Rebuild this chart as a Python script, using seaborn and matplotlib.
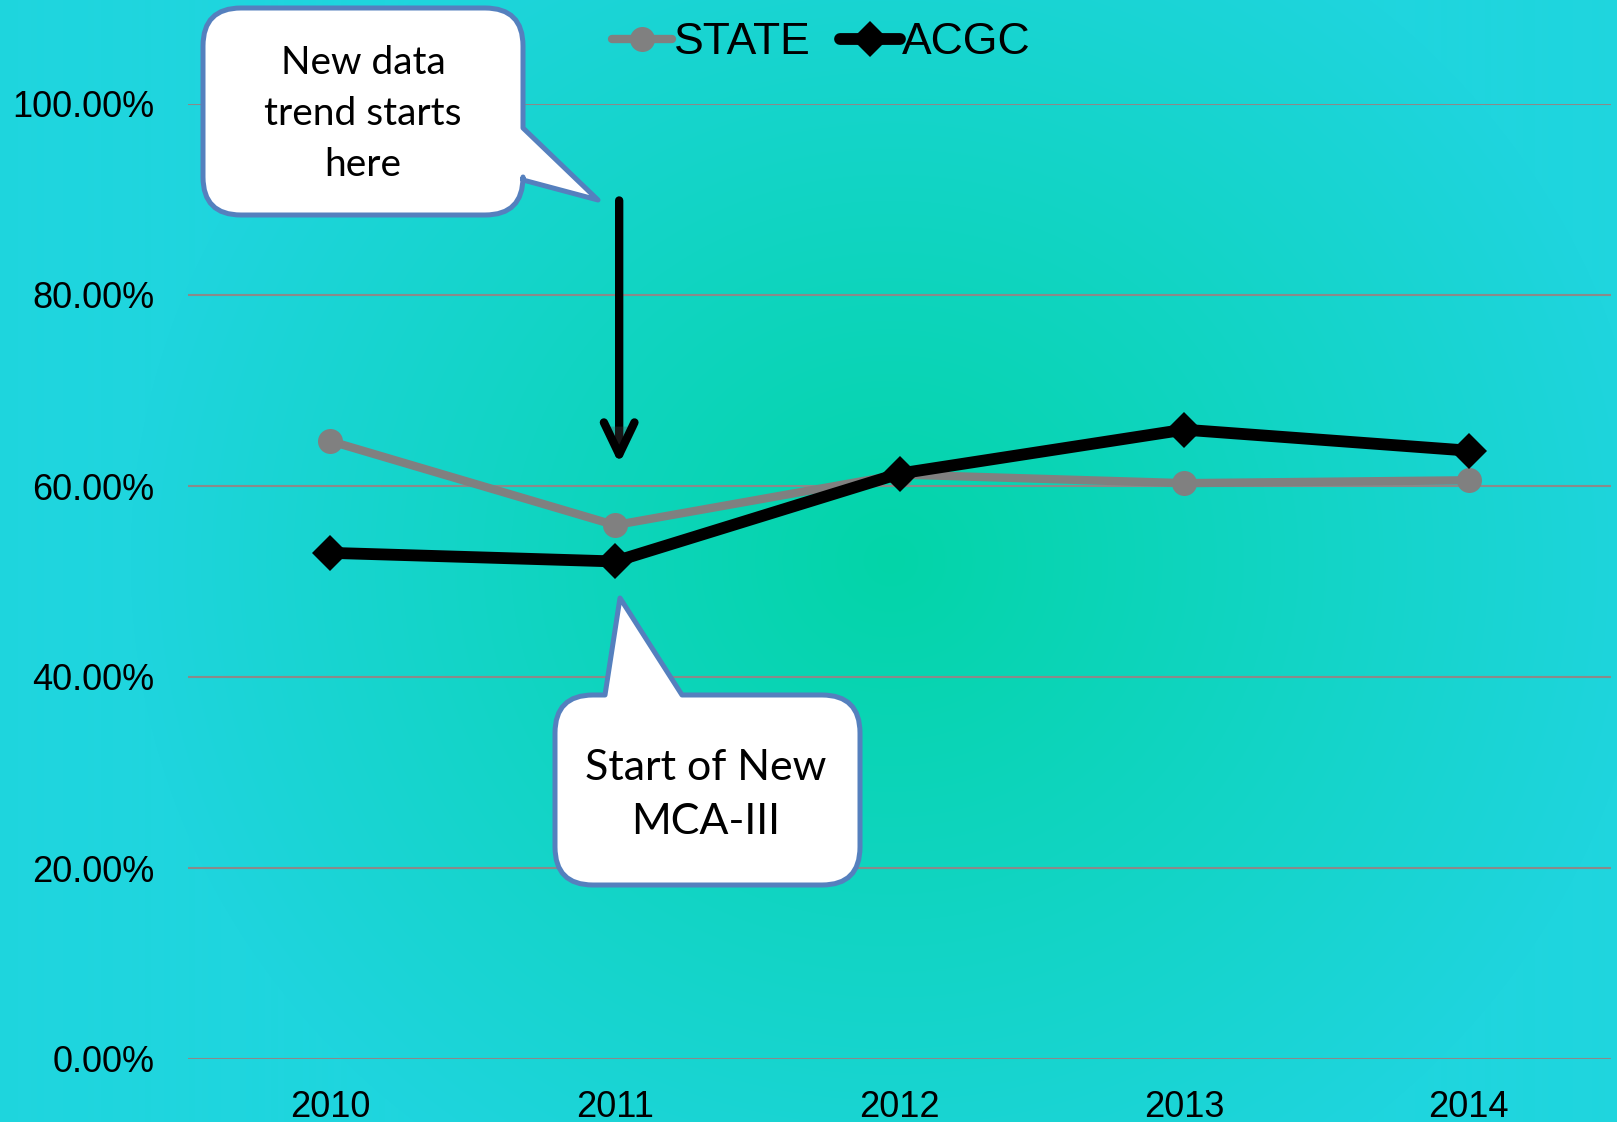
import numpy as np
import pandas as pd
import matplotlib
matplotlib.use('Agg')
import matplotlib.pyplot as plt
from matplotlib.path import Path
from matplotlib.patches import PathPatch, FancyArrowPatch, ArrowStyle
from matplotlib import transforms
import matplotlib.patheffects as pe
import seaborn as sns

# data
years = ['2010', '2011', '2012', '2013', '2014']
state = [64.7, 55.9, 61.2, 60.3, 60.6]
acgc = [53.0, 52.1, 61.3, 65.9, 63.7]
y_ticks = [0, 20, 40, 60, 80, 100]

df = pd.DataFrame({
    'year': years * 2,
    'value': state + acgc,
    'series': ['STATE'] * len(years) + ['ACGC'] * len(years),
})

sns.set_style('white')
plt.rcParams['font.family'] = ['Liberation Sans', 'DejaVu Sans']
plt.rcParams['text.color'] = 'black'

W, H = 1617, 1122
fig = plt.figure(figsize=(W / 100, H / 100), dpi=100)

# radial green/cyan background
bg = fig.add_axes([0, 0, 1, 1], zorder=0)
yy, xx = np.mgrid[0:H, 0:W]
r = np.sqrt(((xx - 890) / 760.0) ** 2 + ((yy - 560) / 720.0) ** 2)
t = np.clip(r, 0, 1)[..., None]
c0 = np.array([3, 212, 168]) / 255
c1 = np.array([31, 213, 222]) / 255
bg.imshow(c0 * (1 - t) + c1 * t, aspect='auto', extent=[0, 1, 0, 1])
bg.axis('off')

ax = fig.add_axes([188 / W, 1 - 1059 / H, 1423 / W, 955 / H], zorder=1)
ax.patch.set_alpha(0)

sns.lineplot(data=df[df.series == 'STATE'], x='year', y='value', color='#808080',
             lw=6, marker='o', ms=18, mew=0, label='STATE', ax=ax)
sns.lineplot(data=df[df.series == 'ACGC'], x='year', y='value', color='black',
             lw=8.5, marker='D', ms=18, mew=0, label='ACGC', ax=ax)

handles, labels = ax.get_legend_handles_labels()
if ax.get_legend() is not None:
    ax.get_legend().remove()
fig.legend(handles, labels, loc='center', bbox_to_anchor=(0.508, 0.962), ncol=2,
           frameon=False, fontsize=32, handlelength=1.35, handletextpad=0.05,
           columnspacing=0.65, labelcolor='black')

ax.set_xlim(-0.5, 4.5)
ax.set_ylim(0, 100)
ax.set_yticks(y_ticks)
ax.set_yticklabels([f'{v:.2f}%' for v in y_ticks])
ax.set_xlabel('')
ax.set_ylabel('')
ax.tick_params(length=0, labelsize=26, labelcolor='black')
ax.tick_params(axis='y', pad=24)
ax.tick_params(axis='x', pad=22)
ax.grid(axis='y', color='#8a8a8a', lw=1.5)
ax.set_axisbelow(True)
for s in ax.spines.values():
    s.set_visible(False)

# arrow pointing at 2011
arrow = FancyArrowPatch((1.015, 89.9), (1.015, 62.3),
                        arrowstyle=ArrowStyle('->', head_length=23, head_width=11),
                        mutation_scale=1, lw=6, color='black', shrinkA=0, shrinkB=0,
                        transform=ax.transData, clip_on=False, zorder=4)
arrow.set_path_effects([pe.SimplePatchShadow(offset=(2, -3), alpha=0.3), pe.Normal()])
ax.add_patch(arrow)


def callout(box, rad, side, base, tip):
    x0, y0, x1, y1 = box
    verts = [(x0 + rad, y0)]
    codes = [Path.MOVETO]
    if side == 'top':
        verts += [(base[0], y0), tip, (base[1], y0)]
        codes += [Path.LINETO] * 3
    verts += [(x1 - rad, y0), (x1, y0), (x1, y0 + rad)]
    codes += [Path.LINETO, Path.CURVE3, Path.CURVE3]
    if side == 'right':
        verts += [(x1, base[0]), tip, (x1, base[1])]
        codes += [Path.LINETO] * 3
    verts += [(x1, y1 - rad), (x1, y1), (x1 - rad, y1),
              (x0 + rad, y1), (x0, y1), (x0, y1 - rad),
              (x0, y0 + rad), (x0, y0), (x0 + rad, y0)]
    codes += [Path.LINETO, Path.CURVE3, Path.CURVE3] * 3
    verts.append((0, 0))
    codes.append(Path.CLOSEPOLY)
    return Path(verts, codes)


px = transforms.Affine2D().scale(1 / W, -1 / H).translate(0, 1) + fig.transFigure
for p in [callout((203, 8, 523, 215), 38, 'right', (128, 180), (598, 200)),
          callout((555, 695, 860, 885), 38, 'top', (605, 682), (620, 598))]:
    fig.add_artist(PathPatch(p, transform=px, facecolor='white', edgecolor='#5580BE',
                             lw=3.6, joinstyle='round', zorder=5))

fig.text(363 / W, 1 - 114 / H, 'New data\ntrend starts\nhere', ha='center', va='center',
         fontsize=28, family=['Lato', 'DejaVu Sans'], linespacing=1.5, zorder=6)
fig.text(706 / W, 1 - 795 / H, 'Start of New\nMCA-III', ha='center', va='center',
         fontsize=31, family=['Lato', 'DejaVu Sans'], linespacing=1.5, zorder=6)

plt.savefig('out.png', dpi=100)
